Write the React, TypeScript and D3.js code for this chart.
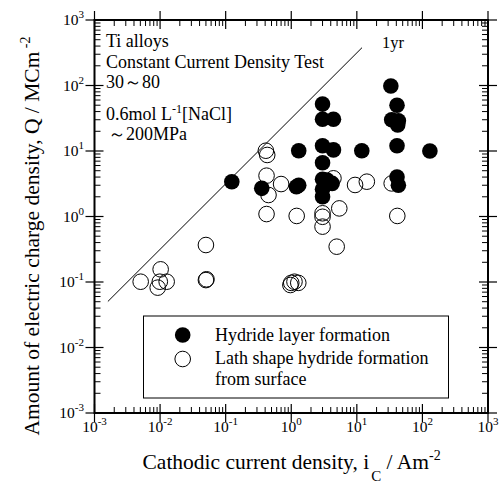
import React from "react";
import * as d3 from "d3";

const filledI = [0.124, 0.355, 1.2, 1.3, 1.3, 3.0, 3.0, 4.4, 3.0, 4.4, 11.9, 3.0, 3.0, 4.2, 3.5, 3.0, 3.0, 33, 41, 34, 43, 42, 41, 130, 41, 43];
const filledQ = [3.4, 2.69, 2.85, 3.0, 10.1, 52, 30.5, 30.5, 12, 10.4, 10.1, 6.6, 3.7, 3.2, 3.6, 2.6, 2.0, 98, 50, 30, 29, 25, 12, 10, 4.0, 3.0];

const openI = [0.41, 0.43, 0.42, 0.45, 0.70, 0.42, 1.21, 0.05, 0.05, 0.051, 1.0, 1.12, 1.28, 0.97, 3.0, 3.0, 3.0, 5.4, 4.93, 4.4, 9.4, 14.2, 34, 41.4, 0.00506, 0.0102, 0.0092, 0.0099, 0.0126];
const openQ = [10.1, 8.7, 4.2, 2.13, 3.13, 1.09, 1.02, 0.367, 0.107, 0.11, 0.097, 0.101, 0.097, 0.09, 1.12, 0.99, 0.70, 1.33, 0.346, 3.83, 3.03, 3.4, 3.2, 1.02, 0.101, 0.156, 0.082, 0.101, 0.101];

const lineI = [0.0016, 12];
const yearSeconds = 31.536; // MC/m^2 per A/m^2 over 1 year
const exponents = [-3, -2, -1, 0, 1, 2, 3];

const legendLabels = ["Hydride layer formation", "Lath shape hydride formation", "from surface"];
const notes = ["Ti alloys", "Constant Current Density Test", "30～80"];

const W = 502, H = 486;
const left = 94.5, right = 488, top = 20, bottom = 413;
const FONT = "'Liberation Serif', 'Times New Roman', serif";

export default function App() {
  const x = d3.scaleLog().domain([1e-3, 1e3]).range([left, right]);
  const y = d3.scaleLog().domain([1e-3, 1e3]).range([bottom, top]);
  const minors: number[] = [];
  exponents.slice(0, -1).forEach((e) => {
    for (let k = 2; k <= 9; k++) minors.push(k * Math.pow(10, e));
  });
  const line = d3.line<number>().x((d) => x(d)).y((d) => y(d * yearSeconds));
  const r = 7.8;
  return (
    <svg width={W} height={H} style={{ position: "absolute", left: 0, top: 0, background: "#fff" }} fontFamily={FONT}>
      <rect x={0} y={0} width={W} height={H} fill="#fff" />
      {/* ticks */}
      {exponents.map((e) => {
        const v = Math.pow(10, e);
        return (
          <g key={"maj" + e} stroke="#000" strokeWidth={1.2}>
            <line x1={x(v)} x2={x(v)} y1={bottom - 9} y2={bottom + 9} />
            <line x1={x(v)} x2={x(v)} y1={top - 9} y2={top + 9} />
            <line y1={y(v)} y2={y(v)} x1={left - 9} x2={left + 9} />
            <line y1={y(v)} y2={y(v)} x1={right - 9} x2={right + 9} />
          </g>
        );
      })}
      {minors.map((v, i) => (
        <g key={"min" + i} stroke="#000" strokeWidth={1}>
          <line x1={x(v)} x2={x(v)} y1={bottom - 6} y2={bottom} />
          <line x1={x(v)} x2={x(v)} y1={top} y2={top + 6} />
          <line y1={y(v)} y2={y(v)} x1={left} x2={left + 6} />
          <line y1={y(v)} y2={y(v)} x1={right - 6} x2={right} />
        </g>
      ))}
      <rect x={left} y={top} width={right - left} height={bottom - top} fill="none" stroke="#000" strokeWidth={2} />
      {/* tick labels */}
      {exponents.map((e) => (
        <text key={"xl" + e} x={x(Math.pow(10, e))} y={432} textAnchor="middle" fontSize={15.5}>
          10<tspan fontSize={11} dy={-7}>{e}</tspan>
        </text>
      ))}
      {exponents.map((e) => (
        <text key={"yl" + e} x={84} y={y(Math.pow(10, e)) + 5} textAnchor="end" fontSize={15.5}>
          10<tspan fontSize={11} dy={-7}>{e}</tspan>
        </text>
      ))}
      {/* axis titles */}
      <text x={left + 48} y={469} textAnchor="start" fontSize={21.5}>
        Cathodic current density, i<tspan fontSize={15} dx={2} dy={12}>C</tspan>
        <tspan dy={-12}> / Am</tspan>
        <tspan fontSize={14} dy={-9}>-2</tspan>
      </text>
      <text transform={`translate(39,236) rotate(-90)`} textAnchor="middle" fontSize={21.5}>
        Amount of electric charge density, Q / MCm<tspan fontSize={14} dy={-9}> -2</tspan>
      </text>
      {/* 1 yr line */}
      <path d={line(lineI) || ""} fill="none" stroke="#000" strokeWidth={1} />
      <text x={382} y={48} fontSize={16.5}>1yr</text>
      {/* notes */}
      <text x={106} y={47} fontSize={18}>{notes[0]}</text>
      <text x={106} y={68} fontSize={18}>{notes[1]}</text>
      <text x={106} y={88} fontSize={18}>{notes[2]}</text>
      <text x={106} y={120} fontSize={18}>
        0.6mol L<tspan fontSize={12} dy={-7}>-1</tspan>
        <tspan dy={7}>[NaCl]</tspan>
      </text>
      <text x={108} y={140} fontSize={18}>～200MPa</text>
      {/* data */}
      {openI.map((v, i) => (
        <circle key={"o" + i} cx={x(v)} cy={y(openQ[i])} r={r} fill="none" stroke="#000" strokeWidth={1} />
      ))}
      {filledI.map((v, i) => (
        <circle key={"f" + i} cx={x(v)} cy={y(filledQ[i])} r={r} fill="#000" />
      ))}
      {/* legend */}
      <rect x={143.5} y={316} width={305} height={82} fill="#fff" stroke="#000" strokeWidth={1} />
      <circle cx={182.7} cy={335} r={r} fill="#000" />
      <circle cx={182.7} cy={359} r={r} fill="#fff" stroke="#000" strokeWidth={1} />
      <text x={215} y={341} fontSize={18}>{legendLabels[0]}</text>
      <text x={215} y={364} fontSize={18}>{legendLabels[1]}</text>
      <text x={215} y={385} fontSize={18}>{legendLabels[2]}</text>
    </svg>
  );
}
